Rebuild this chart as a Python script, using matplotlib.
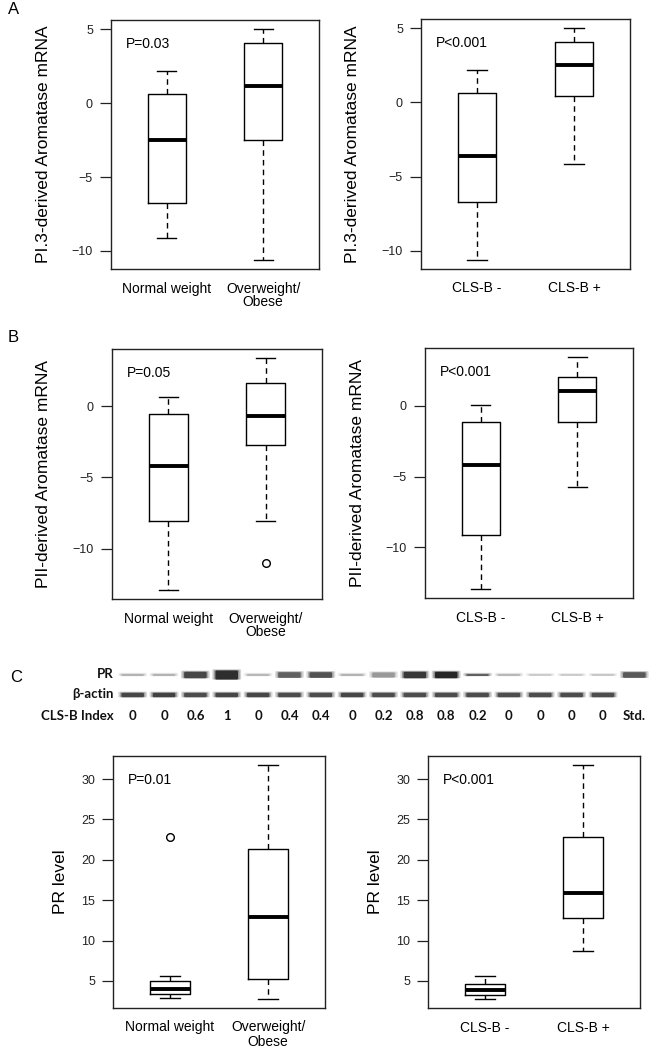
import matplotlib
matplotlib.use("Agg")
import matplotlib.pyplot as plt
from matplotlib.patches import FancyBboxPatch
from matplotlib.ticker import MultipleLocator

# ---------------- data ----------------
bmi_labels = ["Normal weight", "Overweight/\nObese"]
cls_labels = ["CLS-B -", "CLS-B +"]

# five-number summaries: whislo, q1, med, q3, whishi
a_bmi = [[-9.15, -6.73, -2.5, 0.65, 2.2], [-10.6, -2.5, 1.17, 4.04, 5.0]]
a_bmi_fliers = [[], []]
a_cls = [[-10.6, -6.73, -3.64, 0.65, 2.2], [-4.15, 0.43, 2.5, 4.09, 5.0]]
a_cls_fliers = [[], []]

b_bmi = [[-12.9, -8.04, -4.2, -0.56, 0.66], [-8.04, -2.7, -0.7, 1.64, 3.38]]
b_bmi_fliers = [[], [-11.0]]
b_cls = [[-12.93, -9.1, -4.2, -1.18, 0.05], [-5.74, -1.13, 1.02, 2.06, 3.43]]
b_cls_fliers = [[], []]

c_bmi = [[2.94, 3.43, 4.0, 4.95, 5.62], [2.81, 5.25, 12.95, 21.4, 31.7]]
c_bmi_fliers = [[22.78], []]
c_cls = [[2.81, 3.22, 3.92, 4.67, 5.62], [8.75, 12.8, 15.9, 22.8, 31.7]]
c_cls_fliers = [[], []]

p_texts = ["P=0.03", "P<0.001", "P=0.05", "P<0.001", "P=0.01", "P<0.001"]
ylabels = ["PI.3-derived Aromatase mRNA", "PII-derived Aromatase mRNA", "PR level"]

# western blot (relative band intensity 0..1, 0 = no band)
blot_index = ["0", "0", "0.6", "1", "0", "0.4", "0.4", "0", "0.2", "0.8",
              "0.8", "0.2", "0", "0", "0", "0", "Std."]
pr_intensity = [0.30, 0.30, 0.72, 0.82, 0.28, 0.62, 0.68, 0.30, 0.40, 0.78,
                0.85, 0.62, 0.28, 0.22, 0.22, 0.24, 0.65]
pr_thickness = [0.10, 0.10, 0.32, 0.45, 0.10, 0.28, 0.28, 0.10, 0.25, 0.32,
                0.32, 0.10, 0.10, 0.08, 0.08, 0.08, 0.28]
actin_intensity = [0.72, 0.74, 0.70, 0.72, 0.72, 0.70, 0.70, 0.72, 0.70, 0.70,
                   0.70, 0.70, 0.70, 0.70, 0.70, 0.70, 0.0]

# ---------------- figure ----------------
W, H = 652, 1050
fig = plt.figure(figsize=(W / 100, H / 100), dpi=100)
fig.patch.set_facecolor("white")
FONT = "Liberation Sans"


def px_axes(x0, y0, x1, y1):
    return fig.add_axes([x0 / W, 1 - y1 / H, (x1 - x0) / W, (y1 - y0) / H])


def boxpanel(ax, summ, fliers, labels, ptxt, ylabel, ylabel_x):
    stats = []
    for s, f, lab in zip(summ, fliers, labels):
        stats.append(dict(whislo=s[0], q1=s[1], med=s[2], q3=s[3], whishi=s[4],
                          fliers=f, label=lab))
    ax.bxp(stats, positions=[1, 2], widths=0.4, capwidths=0.2,
           boxprops=dict(color="black", lw=1.0),
           medianprops=dict(color="black", lw=2.8, solid_capstyle="butt"),
           whiskerprops=dict(color="black", lw=1.0, linestyle=(0, (4, 3))),
           capprops=dict(color="black", lw=1.0),
           flierprops=dict(marker="o", markerfacecolor="none",
                           markeredgecolor="black", markersize=5.5, markeredgewidth=1.0))
    vals = [v for s in summ for v in s] + [v for f in fliers for v in f]
    lo, hi = min(vals), max(vals)
    ext = 0.04 * (hi - lo)
    ax.set_ylim(lo - ext, hi + ext)
    ax.set_xlim(0.42, 2.58)
    ax.yaxis.set_major_locator(MultipleLocator(5))
    ax.tick_params(axis="y", direction="out", length=8, width=0.9, pad=5,
                   labelsize=9, colors="#222222")
    ax.tick_params(axis="x", length=0, pad=9, labelsize=10)
    for lab in ax.get_xticklabels():
        lab.set_fontfamily(FONT)
        lab.set_va("top")
        lab.set_linespacing(1.0)
    for lab in ax.get_yticklabels():
        lab.set_fontfamily(FONT)
    for sp in ax.spines.values():
        sp.set_linewidth(1.0)
        sp.set_color("#222222")
    ax.text(0.07, 0.905, ptxt, transform=ax.transAxes, fontsize=10,
            family=FONT, va="center", ha="left")
    ax.set_ylabel(ylabel, fontsize=12.5, family=FONT)
    ax.yaxis.set_label_coords(ylabel_x, 0.5)


axA1 = px_axes(111, 20, 319, 269)
boxpanel(axA1, a_bmi, a_bmi_fliers, bmi_labels, p_texts[0], ylabels[0], -0.29)
axA2 = px_axes(421, 19, 630, 269)
boxpanel(axA2, a_cls, a_cls_fliers, cls_labels, p_texts[1], ylabels[0], -0.29)

axB1 = px_axes(112, 349, 322, 599)
boxpanel(axB1, b_bmi, b_bmi_fliers, bmi_labels, p_texts[2], ylabels[1], -0.29)
axB2 = px_axes(425, 348, 633, 598)
boxpanel(axB2, b_cls, b_cls_fliers, cls_labels, p_texts[3], ylabels[1], -0.29)

axC1 = px_axes(113, 756, 325, 1008)
boxpanel(axC1, c_bmi, c_bmi_fliers, bmi_labels, p_texts[4], ylabels[2], -0.21)
axC2 = px_axes(428, 756, 640, 1008)
boxpanel(axC2, c_cls, c_cls_fliers, cls_labels, p_texts[5], ylabels[2], -0.21)

# panel letters
for letter, (x, y) in zip(["A", "B", "C"], [(8, 10), (8, 338), (10, 678)]):
    fig.text(x / W, 1 - y / H, letter, fontsize=12, family=FONT, va="center", ha="left")

# ---------------- western blot ----------------
axW = px_axes(117, 664, 650, 724)
n = len(blot_index)
axW.set_xlim(-0.5, n - 0.5)
axW.set_ylim(2.5, -0.5)
axW.axis("off")


def band(ax, x, y, w, h, inten):
    if inten <= 0:
        return
    g = 1 - inten
    for k, a in enumerate([0.35, 0.6, 1.0]):
        grow = (2 - k) * 0.05
        p = FancyBboxPatch((x - w / 2 - grow, y - h / 2 - grow * 0.6),
                           w + 2 * grow, h + 1.2 * grow * 0.6,
                           boxstyle="round,pad=0,rounding_size=0.05",
                           facecolor=(g, g, g), edgecolor="none", alpha=a * 0.6 if k < 2 else 1.0)
        ax.add_patch(p)


for i in range(n):
    band(axW, i, 0.05, 0.72, pr_thickness[i], pr_intensity[i])
    band(axW, i, 1.05, 0.72, 0.22, actin_intensity[i])
    axW.text(i, 2.1, blot_index[i], ha="center", va="center", fontsize=9.5,
             family="Lato", fontweight="bold", color="#111111")

for row, lab in enumerate(["PR", "\u03b2-actin", "CLS-B Index"]):
    axW.text(-0.6, row + (0.1 if row == 2 else 0.0), lab, ha="right", va="center",
             fontsize=9.5, family="Lato", fontweight="bold", color="#111111")

fig.savefig("out.png", dpi=100, facecolor="white")
